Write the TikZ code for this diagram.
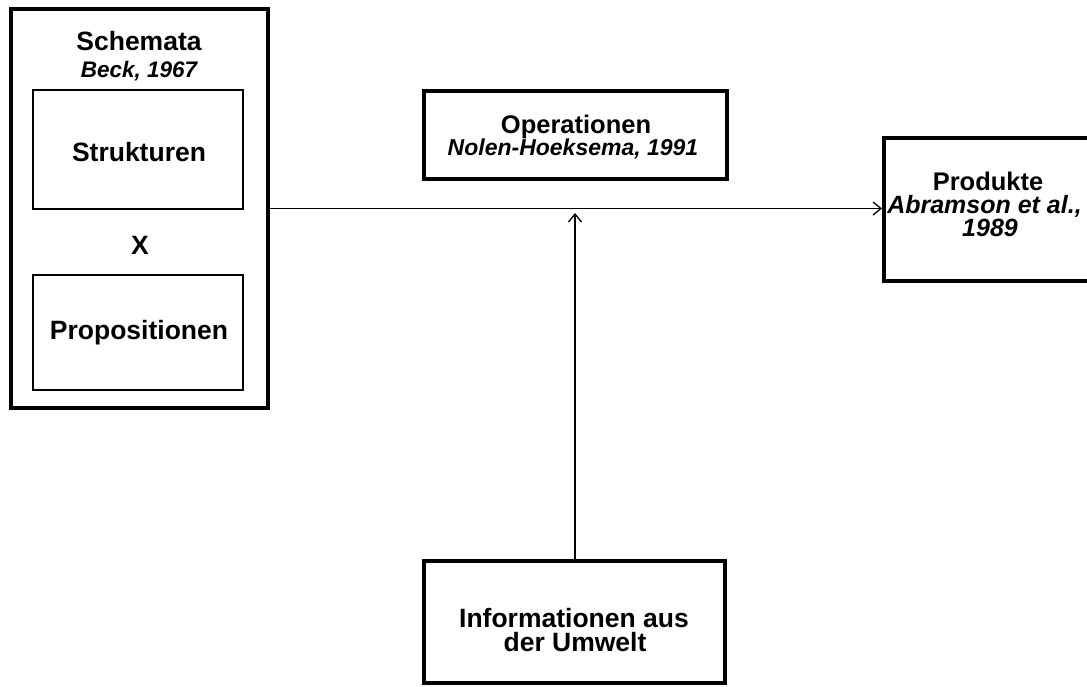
\documentclass[tikz,border=0pt]{standalone}
\usepackage{fontspec}
\setmainfont{Liberation Sans}
\usetikzlibrary{arrows.meta}

\tikzset{
  thickbox/.style={draw=black, line width=4pt, inner sep=0pt, fill=white},
  thinbox/.style={draw=black, line width=1.3pt, inner sep=0pt},
  txt/.style={inner sep=0pt, anchor=base, font=\fontsize{#1}{#1}\selectfont\bfseries},
  txt/.default=26.5,
  cite/.style={inner sep=0pt, anchor=base, font=\fontsize{#1}{#1}\selectfont\bfseries\itshape},
  cite/.default=23,
  flow/.style={line width=1.3pt, -{Straight Barb[length=8pt,width=13pt,line width=1.3pt]}}
}

\begin{document}
\begin{tikzpicture}[x=1pt, y=-1pt]
  \useasboundingbox (0,0) rectangle (1087,686);
  \clip (0,0) rectangle (1087,686);

  % Schemata group with its two sub-boxes
  \node[thickbox, minimum width=257pt, minimum height=399pt] (schemata) at (139.5,208.5) {};
  \node[txt] (schematitle) at (139,50) {Schemata};
  \node[cite=22.5] (schemacite) at (139,77) {Beck, 1967};
  \node[thinbox, minimum width=210pt, minimum height=119pt] (strukt) at (138,149.5) {};
  \node[txt, anchor=center] at (139,152) (strukttext) {Strukturen};
  \node[txt, anchor=center] (times) at (140,245) {X};
  \node[thinbox, minimum width=210pt, minimum height=115pt] (propos) at (138,332.5) {};
  \node[txt, anchor=center] at (139,333) (propostext) {Propositionen};

  % Operations
  \node[thickbox, minimum width=303pt, minimum height=88pt] (oper) at (575,135) {};
  \node[txt=25.5] (opertext) at (576,133) {Operationen};
  \node[cite] (opercite) at (573,155) {Nolen-Hoeksema, 1991};

  % Products (box runs past the right edge)
  \node[thickbox, minimum width=220pt, minimum height=143pt] (prod) at (994,209.5) {};
  \node[txt=25.5] (prodtext) at (988,190) {Produkte};
  \node[cite=25] (prodcite) at (984.5,213) {Abramson et al.,};
  \node[cite=25] (prodyear) at (990,236) {1989};

  % Environmental information
  \node[thickbox, minimum width=301pt, minimum height=122pt] (info) at (574.5,622) {};
  \node[txt] (infotext) at (574,627) {Informationen aus};
  \node[txt] (infotext2) at (575,651) {der Umwelt};

  % Connectors
  \draw[flow] (schemata.east) -- (schemata.east -| prod.west);
  \coordinate (meet) at (575,213);
  \draw[flow] (info.north -| meet) -- (meet);
\end{tikzpicture}
\end{document}
